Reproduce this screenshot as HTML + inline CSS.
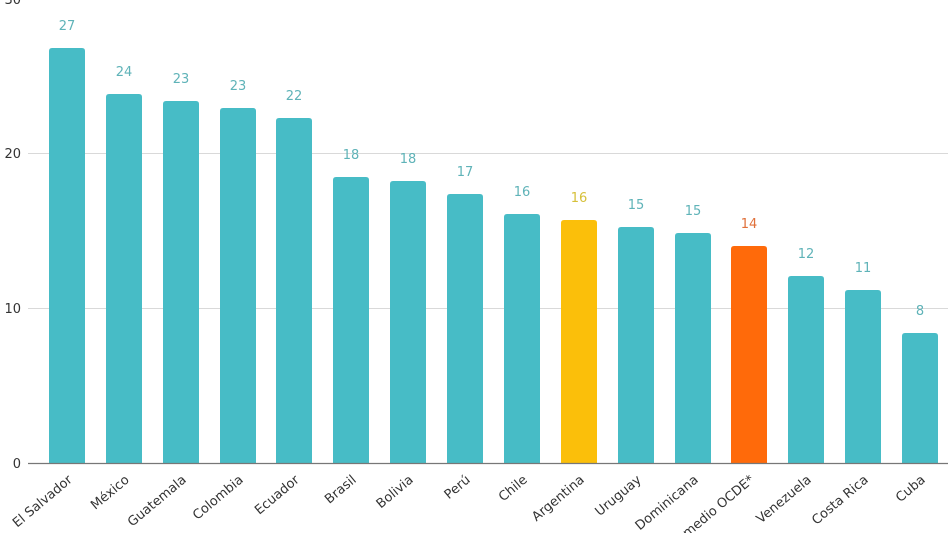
<!DOCTYPE html>
<html><head><meta charset="utf-8"><style>body{margin:0;background:#fff}svg{display:block}</style></head><body>
<svg width="948" height="533" xmlns="http://www.w3.org/2000/svg" font-family="'DejaVu Sans','Liberation Sans',sans-serif">
<g stroke="#d9d9d9" stroke-width="1">
<line x1="28" y1="153.5" x2="948" y2="153.5"/>
<line x1="28" y1="308.5" x2="948" y2="308.5"/>
</g>
<g font-size="13" fill="#333" text-anchor="end">
<text x="21" y="4">30</text>
<text x="21" y="158">20</text>
<text x="21" y="313">10</text>
<text x="21" y="468">0</text>
</g>
<g fill="#47bcc6">
<path d="M49 463V51q0-3 3-3h30q3 0 3 3V463z"/>
<path d="M106 463V97q0-3 3-3h30q3 0 3 3V463z"/>
<path d="M163 463V104q0-3 3-3h30q3 0 3 3V463z"/>
<path d="M220 463V111q0-3 3-3h30q3 0 3 3V463z"/>
<path d="M276 463V121q0-3 3-3h30q3 0 3 3V463z"/>
<path d="M333 463V180q0-3 3-3h30q3 0 3 3V463z"/>
<path d="M390 463V184q0-3 3-3h30q3 0 3 3V463z"/>
<path d="M447 463V197q0-3 3-3h30q3 0 3 3V463z"/>
<path d="M504 463V217q0-3 3-3h30q3 0 3 3V463z"/>
<path d="M561 463V223q0-3 3-3h30q3 0 3 3V463z" fill="#fbbf0a"/>
<path d="M618 463V230q0-3 3-3h30q3 0 3 3V463z"/>
<path d="M675 463V236q0-3 3-3h30q3 0 3 3V463z"/>
<path d="M731 463V249q0-3 3-3h30q3 0 3 3V463z" fill="#ff6a0a"/>
<path d="M788 463V279q0-3 3-3h30q3 0 3 3V463z"/>
<path d="M845 463V293q0-3 3-3h30q3 0 3 3V463z"/>
<path d="M902 463V336q0-3 3-3h30q3 0 3 3V463z"/>
</g>
<g font-size="13" fill="#5fb3b8" text-anchor="middle">
<text x="67" y="30">27</text>
<text x="124" y="76">24</text>
<text x="181" y="83">23</text>
<text x="238" y="90">23</text>
<text x="294" y="100">22</text>
<text x="351" y="159">18</text>
<text x="408" y="163">18</text>
<text x="465" y="176">17</text>
<text x="522" y="196">16</text>
<text x="579" y="202" fill="#d6c03a">16</text>
<text x="636" y="209">15</text>
<text x="693" y="215">15</text>
<text x="749" y="228" fill="#e0703a">14</text>
<text x="806" y="258">12</text>
<text x="863" y="272">11</text>
<text x="920" y="315">8</text>
</g>
<line x1="28" y1="463.5" x2="948" y2="463.5" stroke="#777" stroke-width="1.3"/>
<g font-size="13" fill="#333" text-anchor="end">
<text transform="translate(73,481) rotate(-40)">El Salvador</text>
<text transform="translate(130,481) rotate(-40)">México</text>
<text transform="translate(187,481) rotate(-40)">Guatemala</text>
<text transform="translate(244,481) rotate(-40)">Colombia</text>
<text transform="translate(300,481) rotate(-40)">Ecuador</text>
<text transform="translate(357,481) rotate(-40)">Brasil</text>
<text transform="translate(414,481) rotate(-40)">Bolivia</text>
<text transform="translate(471,481) rotate(-40)">Perú</text>
<text transform="translate(528,481) rotate(-40)">Chile</text>
<text transform="translate(585,481) rotate(-40)">Argentina</text>
<text transform="translate(642,481) rotate(-40)">Uruguay</text>
<text transform="translate(699,481) rotate(-40)">Dominicana</text>
<text transform="translate(755,481) rotate(-40)">Promedio OCDE*</text>
<text transform="translate(812,481) rotate(-40)">Venezuela</text>
<text transform="translate(869,481) rotate(-40)">Costa Rica</text>
<text transform="translate(926,481) rotate(-40)">Cuba</text>
</g>
</svg>
</body></html>
